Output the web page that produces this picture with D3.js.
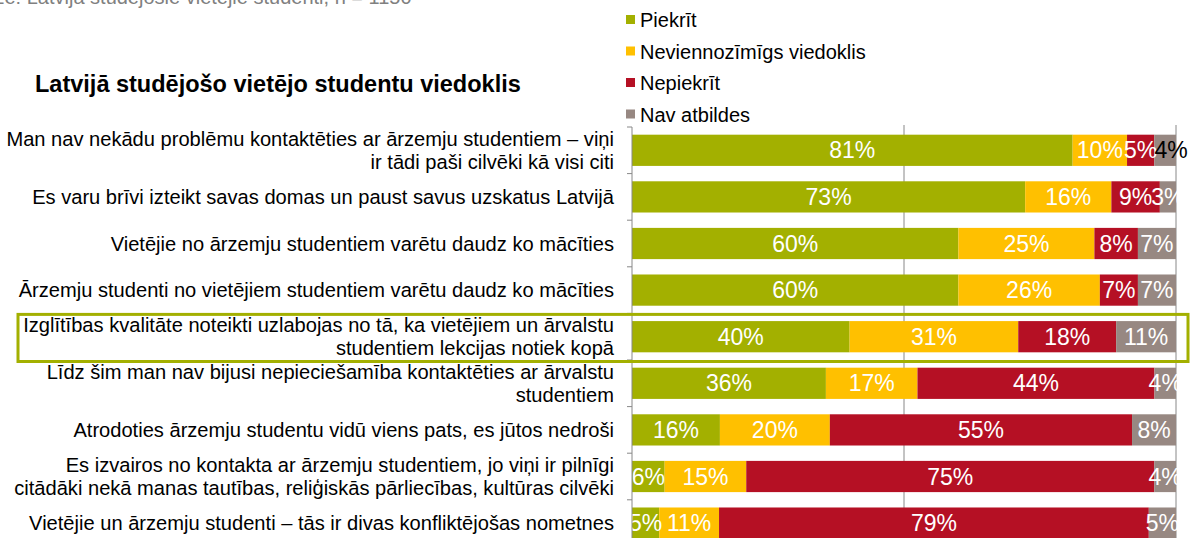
<!DOCTYPE html>
<html>
<head>
<meta charset="utf-8">
<script src="https://cdn.jsdelivr.net/npm/d3@7"></script>
<style>
  body { margin: 0; background: #fff; }
  svg { display: block; font-family: "Liberation Sans", Arial, sans-serif; }
</style>
</head>
<body>
<div id="chart"></div>
<script>
// statements (label lines) top to bottom
var categories = [
  ["Man nav nekādu problēmu kontaktēties ar ārzemju studentiem – viņi", "ir tādi paši cilvēki kā visi citi"],
  ["Es varu brīvi izteikt savas domas un paust savus uzskatus Latvijā"],
  ["Vietējie no ārzemju studentiem varētu daudz ko mācīties"],
  ["Ārzemju studenti no vietējiem studentiem varētu daudz ko mācīties"],
  ["Izglītības kvalitāte noteikti uzlabojas no tā, ka vietējiem un ārvalstu", "studentiem lekcijas notiek kopā"],
  ["Līdz šim man nav bijusi nepieciešamība kontaktēties ar ārvalstu", "studentiem"],
  ["Atrodoties ārzemju studentu vidū viens pats, es jūtos nedroši"],
  ["Es izvairos no kontakta ar ārzemju studentiem, jo viņi ir pilnīgi", "citādāki nekā manas tautības, reliģiskās pārliecības, kultūras cilvēki"],
  ["Vietējie un ārzemju studenti – tās ir divas konfliktējošas nometnes"]
];

var seriesNames = ["Piekrīt", "Neviennozīmīgs viedoklis", "Nepiekrīt", "Nav atbildes"];
var seriesColors = ["#a3b000", "#ffc000", "#b51024", "#978882"];

var agree     = [81, 73, 60, 60, 40, 36, 16, 6, 5];
var neutral   = [10, 16, 25, 26, 31, 17, 20, 15, 11];
var disagree  = [5, 9, 8, 7, 18, 44, 55, 75, 79];
var noAnswer  = [4, 3, 7, 7, 11, 4, 8, 4, 5];

var highlighted = 4;  // row with the green frame

var width = 1192, height = 538;

var svg = d3.select("#chart").append("svg")
  .attr("width", width)
  .attr("height", height);

// cut off base note at the very top
svg.append("text")
  .attr("x", -30).attr("y", 4)
  .attr("fill", "#808080")
  .style("font-size", "20px")
  .text("Bāze: Latvijā studējošie vietējie studenti, n = 1150");

svg.append("text")
  .attr("x", 35).attr("y", 92)
  .style("font-size", "23.5px")
  .style("font-weight", "bold")
  .text("Latvijā studējošo vietējo studentu viedoklis");

// legend
var legend = svg.append("g").selectAll("g")
  .data(seriesNames)
  .enter().append("g")
  .attr("transform", function(d, i) { return "translate(626," + (20 + i * 31.5) + ")"; });
legend.append("rect")
  .attr("x", 0).attr("y", -5).attr("width", 9).attr("height", 9)
  .attr("fill", function(d, i) { return seriesColors[i]; });
legend.append("text")
  .attr("x", 14).attr("y", 7)
  .style("font-size", "20px")
  .text(function(d) { return d; });

var rows = categories.map(function(c, i) {
  return { idx: i, vals: [agree[i], neutral[i], disagree[i], noAnswer[i]] };
});

var x = d3.scaleLinear().domain([0, 100]).range([632, 1176]);
var y = d3.scaleBand()
  .domain(d3.range(categories.length))
  .range([127, 127 + 46.6 * categories.length])
  .paddingInner(0.33)
  .paddingOuter(0.165);

// gridlines at 50% and 100%
svg.append("g").selectAll("line")
  .data([50, 100])
  .enter().append("line")
  .attr("x1", function(d) { return x(d); }).attr("x2", function(d) { return x(d); })
  .attr("y1", 125).attr("y2", height)
  .attr("stroke", "#888").attr("stroke-width", 1);

// bars
var rowG = svg.append("g").selectAll("g")
  .data(rows)
  .enter().append("g");

rowG.each(function(r) {
  var total = d3.sum(r.vals);
  var cum = 0;
  var segs = r.vals.map(function(v, k) {
    var s = { k: k, v: v, x0: cum / total * 100, x1: (cum + v) / total * 100 };
    cum += v;
    return s;
  });
  var g = d3.select(this);
  g.selectAll("rect")
    .data(segs)
    .enter().append("rect")
    .attr("x", function(s) { return x(s.x0); })
    .attr("width", function(s) { return x(s.x1) - x(s.x0); })
    .attr("y", y(r.idx))
    .attr("height", y.bandwidth())
    .attr("fill", function(s) { return seriesColors[s.k]; });
  g.selectAll("text")
    .data(segs)
    .enter().append("text")
    .attr("x", function(s) {
      // the black label in the first row hangs past the bar end
      var mid = (x(s.x0) + x(s.x1)) / 2;
      return (r.idx === 0 && s.k === 3) ? mid + 6 : mid;
    })
    .attr("y", y(r.idx) + y.bandwidth() / 2 + 8)
    .attr("text-anchor", "middle")
    .attr("fill", function(s) { return (r.idx === 0 && s.k === 3) ? "#000" : "#fff"; })
    .style("font-size", "23px")
    .text(function(s) { return s.v + "%"; });
});

// y axis line and ticks
svg.append("line")
  .attr("x1", 632).attr("x2", 632)
  .attr("y1", 127).attr("y2", height)
  .attr("stroke", "#888");
svg.append("g").selectAll("line")
  .data(d3.range(categories.length + 1))
  .enter().append("line")
  .attr("x1", 627).attr("x2", 632)
  .attr("y1", function(i) { return 127 + i * y.step(); })
  .attr("y2", function(i) { return 127 + i * y.step(); })
  .attr("stroke", "#888");

// category labels
var lab = svg.append("g").selectAll("text")
  .data(rows)
  .enter().append("text")
  .attr("text-anchor", "end")
  .style("font-size", "20.1px")
  .attr("fill", "#000");
lab.each(function(r) {
  var lines = categories[r.idx];
  var cy = y(r.idx) + y.bandwidth() / 2;
  var start = cy + 7 - (lines.length - 1) * 11.5;
  d3.select(this).selectAll("tspan")
    .data(lines)
    .enter().append("tspan")
    .attr("x", 614)
    .attr("y", function(d, j) { return start + j * 23; })
    .text(function(d) { return d; });
});

// highlight frame
svg.append("rect")
  .attr("x", 18)
  .attr("y", y(highlighted) - y.step() * 0.165 + 1)
  .attr("width", 1170)
  .attr("height", y.step() + 0.5)
  .attr("fill", "none")
  .attr("stroke", "#a3b000")
  .attr("stroke-width", 3);
</script>
</body>
</html>
